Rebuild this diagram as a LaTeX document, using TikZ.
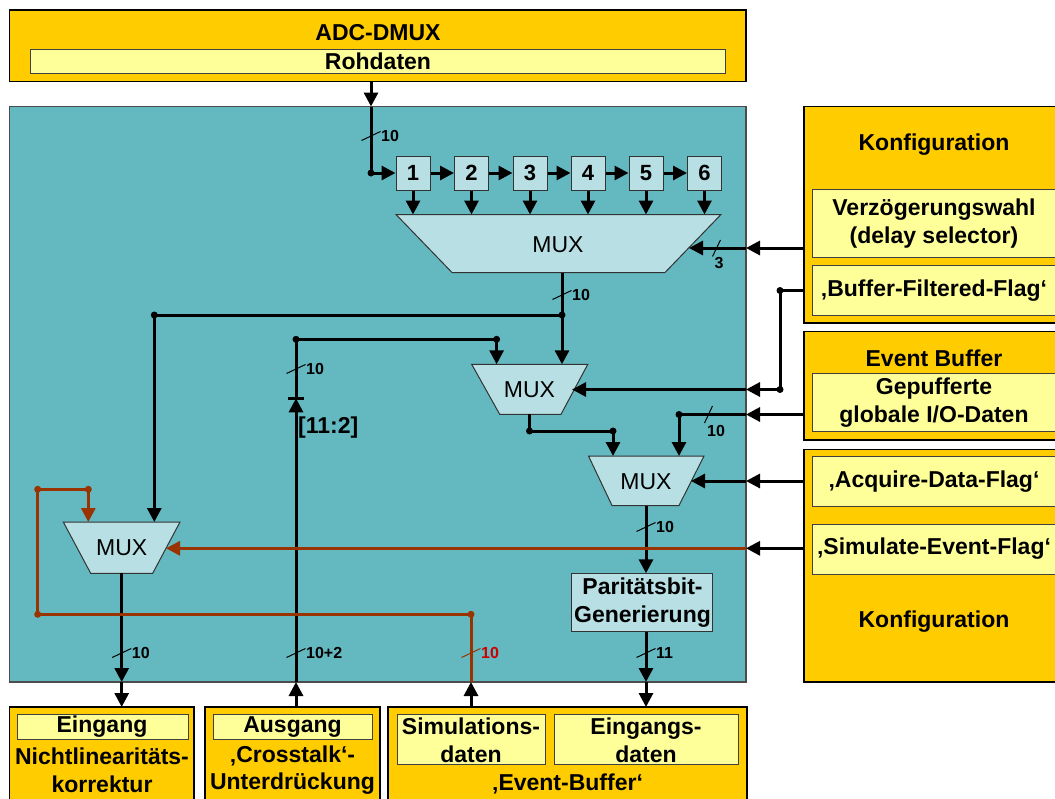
\documentclass[tikz,border=0pt]{standalone}
\usepackage{fontspec}
\setmainfont{Liberation Sans}
\usetikzlibrary{arrows.meta}
\definecolor{tealbg}{HTML}{64B8C0}
\definecolor{lblue}{HTML}{B8E0E4}
\definecolor{orng}{HTML}{FFCC00}
\definecolor{lyel}{HTML}{FFFF99}
\definecolor{brn}{HTML}{993300}
\definecolor{redlbl}{HTML}{CC0000}
\newcommand{\vbus}[6]{%
  \draw[tick,#4] (#1-9.5,#2+4.5) -- (#1+9.5,#2-4.5);
  \node[small,text=#5,anchor=west] (#6) at (#1+10,#2) {#3};}
\begin{document}
\begin{tikzpicture}[x=1pt,y=-1pt,
  txt/.style={font=\fontsize{23}{28}\selectfont\bfseries, inner sep=0pt, align=center},
  muxtxt/.style={font=\fontsize{23}{28}\selectfont, inner sep=0pt},
  small/.style={font=\fontsize{16}{18}\selectfont\bfseries, inner sep=0pt},
  obox/.style={draw=black, line width=1.3pt, fill=orng},
  ybox/.style={draw=black!75, line width=1pt, fill=lyel},
  tealbox/.style={draw=black!70, line width=1.8pt, fill=tealbg},
  reg/.style={draw=black!80, line width=1pt, fill=lblue, minimum width=34pt, minimum height=34pt, inner sep=0pt, font=\fontsize{22}{24}\selectfont\bfseries},
  mux/.style={draw=black!80, line width=1pt, fill=lblue},
  wire/.style={line width=3pt},
  bwire/.style={line width=3pt, draw=brn},
  arr/.style={wire, -{Triangle[length=14pt,width=14pt]}},
  barr/.style={bwire, -{Triangle[length=14pt,width=14pt]}},
  dot/.style={circle, fill=black, inner sep=0pt, minimum size=7pt},
  bdot/.style={circle, fill=brn, inner sep=0pt, minimum size=7pt},
  tick/.style={line width=1pt}]
\useasboundingbox (0,0) rectangle (1055,798);
\clip (0,0) rectangle (1055,798);

% ---------- top ADC box
\draw[obox] (9.5,10) rectangle (746,81.5);
\node[txt] (adc) at (378,33) {ADC-DMUX};
\draw[ybox] (30,49) rectangle (725,73.7);
\node[txt] (roh) at (378,61.5) {Rohdaten};

% ---------- main teal box
\draw[tealbox] (9.5,106.5) rectangle (746,682);

% ---------- right boxes
\draw[obox] (804,106.5) rectangle (1065,323);
\node[txt] (konf1) at (934,145) {Konfiguration};
\draw[ybox] (812,189.5) rectangle (1058,257.5);
\node[txt] (delay) at (934,224) {Verzögerungswahl\\(delay selector)};
\draw[ybox] (812,265.5) rectangle (1058,315.5);
\node[txt] (bff) at (934,290.5) {‚Buffer-Filtered-Flag‘};

\draw[obox] (804,331.5) rectangle (1065,440);
\node[txt] (evb) at (934,358) {Event Buffer};
\draw[ybox] (812,373.5) rectangle (1058,431.5);
\node[txt] (gep) at (934,403) {Gepufferte\\globale I/O-Daten};

\draw[obox] (804,449.5) rectangle (1065,682);
\draw[ybox] (812,456.5) rectangle (1058,506.5);
\node[txt] (acq) at (934,481.5) {‚Acquire-Data-Flag‘};
\draw[ybox] (812,524) rectangle (1058,574);
\node[txt] (simf) at (934,548.5) {‚Simulate-Event-Flag‘};
\node[txt] (konf2) at (934,622) {Konfiguration};

% ---------- bottom boxes
\draw[obox] (9.5,707) rectangle (194,805);
\draw[ybox] (17,714) rectangle (188,739.5);
\node[txt] (eing) at (102,727) {Eingang};
\node[txt] (nl1) at (102,756) {Nichtlinearitäts-};
\node[txt] (nl2) at (102,784) {korrektur};

\draw[obox] (205,707) rectangle (380,805);
\draw[ybox] (213,714) rectangle (372,739.5);
\node[txt] (ausg) at (292.5,727) {Ausgang};
\node[txt] (ct1) at (292.5,756) {‚Crosstalk‘-};
\node[txt] (ct2) at (292.5,784) {Unterdrückung};

\draw[obox] (388,707) rectangle (747,805);
\draw[ybox] (397,714) rectangle (545,764.5);
\node[txt] (simd) at (471,740) {Simulations-\\daten};
\draw[ybox] (554,714) rectangle (738,764.5);
\node[txt] (eind) at (646,740) {Eingangs-\\daten};
\node[txt] (ebuf) at (567.5,784) {‚Event-Buffer‘};

% ---------- registers
\foreach \i/\x in {1/413,2/471.5,3/530,4/588,5/646,6/704.5}
  \node[reg] (r\i) at (\x,173) {\i};

% ---------- multiplexers
\draw[mux] (396,214.5) -- (721,214.5) -- (665,272.5) -- (452,272.5) -- cycle;
\node[muxtxt] (mux1) at (558,245) {MUX};
\draw[mux] (471.7,364.3) -- (587.8,364.3) -- (561,414.3) -- (499.7,414.3) -- cycle;
\node[muxtxt] (mux2) at (529.5,390) {MUX};
\draw[mux] (588.5,456) -- (704,456) -- (679,505.5) -- (612,505.5) -- cycle;
\node[muxtxt] (mux3) at (646,481.5) {MUX};
\draw[mux] (63.3,522) -- (180,522) -- (152.7,573.3) -- (90.7,573.3) -- cycle;
\node[muxtxt] (mux4) at (121.7,548) {MUX};

% parity box
\draw[mux] (571.7,573.3) rectangle (712.7,631.7);
\node[txt] (par) at (642.5,603) {Paritätsbit-\\Generierung};

% ---------- wires: input chain
\coordinate (m1top) at (0,214.5);
\draw[arr] (371,81.5) -- (371,106.5);
\draw[wire] (371,106.5) -- (371,173);
\draw[arr] (371,173) -- (r1.west);
\node[dot] (d0) at (371,173) {};
\vbus{371}{136}{10}{black}{black}{l0}
\foreach \a/\b in {1/2,2/3,3/4,4/5,5/6} \draw[arr] (r\a.east) -- (r\b.west);
\foreach \i in {1,...,6} \draw[arr] (r\i.south) -- (r\i.south |- m1top);

% delay selector
\draw[arr] (804,248) -- (746,248);
\draw[arr] (746,248) -- (689,248);
\draw[tick] (712.5,256.5) -- (720.5,240);
\node[small,anchor=north] (l3) at (719,257) {3};

% MUX1 output
\draw[wire] (562,272.5) -- (562,315);
\draw[arr] (562,315) -- (562,364.3);
\draw[wire] (562,315) -- (154.3,315);
\draw[arr] (154.3,315) -- (154.3,522);
\node[dot] (d1) at (562,315) {};
\node[dot] (d2) at (154.3,315) {};
\vbus{562}{295}{10}{black}{black}{l1}

% [11:2] path
\draw[arr] (296,707) -- (296,682);
\draw[arr] (296,682) -- (296,398.3);
\draw[wire] (288,398.3) -- (304,398.3);
\draw[wire] (296,398.3) -- (296,339.3) -- (496.6,339.3);
\draw[arr] (496.6,339.3) -- (496.6,364.3);
\node[dot] (d3) at (296,339.3) {};
\node[dot] (d4) at (496.6,339.3) {};
\vbus{296}{369}{10}{black}{black}{l2}
\vbus{296}{653}{10+2}{black}{black}{l4}
\node[txt,anchor=west] (bits) at (298,428) {[11:2]};

% buffer-filtered flag
\draw[wire] (804,290.5) -- (780,290.5) -- (780,389.5);
\draw[arr] (780,389.5) -- (746,389.5);
\draw[arr] (746,389.5) -- (572,389.5);
\node[dot] (d5) at (780,290.5) {};
\node[dot] (d6) at (780,389.5) {};

% MUX2 output
\draw[wire] (529.5,414.3) -- (529.5,431) -- (613,431);
\draw[arr] (613,431) -- (613,456);
\node[dot] (d7) at (529.5,431) {};
\node[dot] (d8) at (613,431) {};

% event buffer data
\draw[arr] (804,414.5) -- (746,414.5);
\draw[wire] (746,414.5) -- (679,414.5);
\draw[arr] (679,414.5) -- (679,456);
\node[dot] (d9) at (679,414.5) {};
\draw[tick] (704.5,423) -- (712.5,406);
\node[small,anchor=west] (l5) at (707,431) {10};

% acquire flag
\draw[arr] (804,481) -- (746,481);
\draw[arr] (746,481) -- (691,481);

% MUX3 output and parity
\draw[arr] (646,505.5) -- (646,573.3);
\vbus{646}{527}{10}{black}{black}{l6}
\draw[arr] (646,631.7) -- (646,682);
\draw[arr] (646,682) -- (646,707);
\vbus{646}{653}{11}{black}{black}{l7}

% MUX4 output
\draw[arr] (121.7,573.3) -- (121.7,682);
\draw[arr] (121.7,682) -- (121.7,707);
\vbus{121.7}{653}{10}{black}{black}{l8}

% simulation data loop (brown)
\draw[arr] (471,707) -- (471,682);
\draw[bwire] (471,682) -- (471,614.3) -- (37.7,614.3) -- (37.7,489.3) -- (88.3,489.3);
\draw[barr] (88.3,489.3) -- (88.3,522);
\node[bdot] (b1) at (471,614.3) {};
\node[bdot] (b2) at (37.7,614.3) {};
\node[bdot] (b3) at (37.7,489.3) {};
\node[bdot] (b4) at (88.3,489.3) {};
\vbus{471}{653}{10}{brn}{redlbl}{l9}

% simulate-event flag
\draw[arr] (804,548.3) -- (746,548.3);
\draw[barr] (746,548.3) -- (166,548.3);
\end{tikzpicture}
\end{document}
